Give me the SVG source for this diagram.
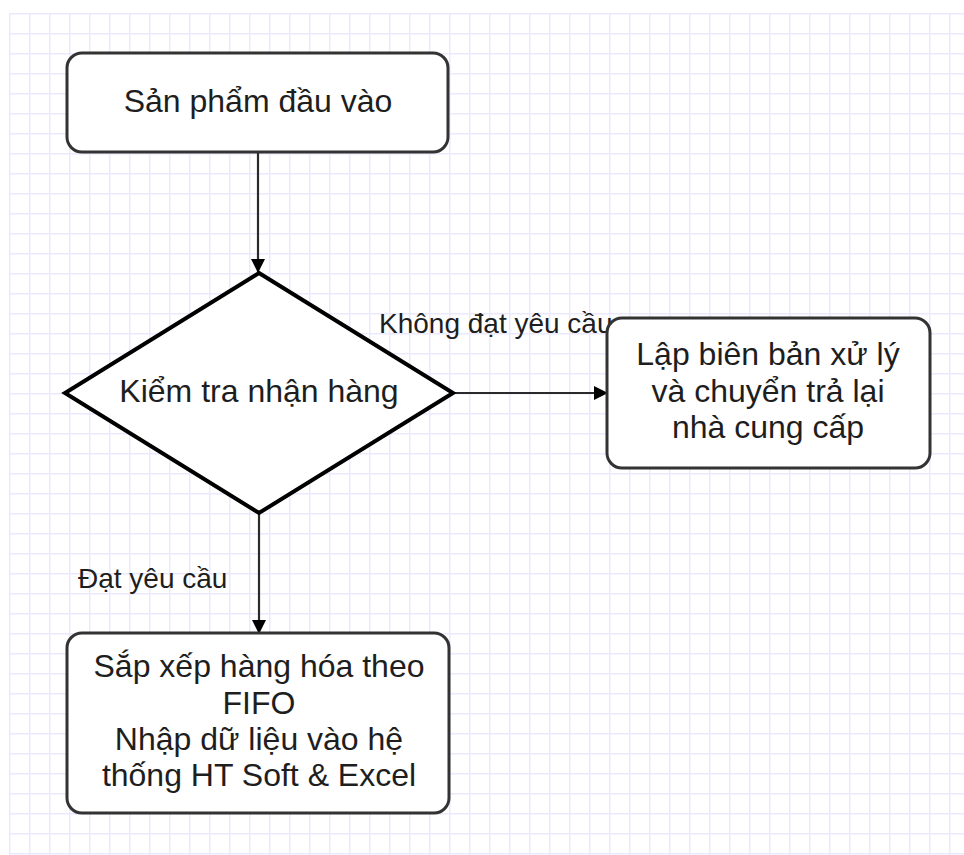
<svg xmlns="http://www.w3.org/2000/svg" width="964" height="855" viewBox="0 0 964 855">
  <defs>
    <pattern id="grid" x="9" y="13" width="20" height="20" patternUnits="userSpaceOnUse">
      <path d="M0 0.75 H20 M0.75 0 V20" fill="none" stroke="#ebe9fd" stroke-width="1.5"/>
    </pattern>
    <marker id="arrow" viewBox="0 0 14 14" refX="13" refY="7" markerWidth="14" markerHeight="14" markerUnits="userSpaceOnUse" orient="auto">
      <path d="M0 0 L14 7 L0 14 Z" fill="#000"/>
    </marker>
  </defs>
  <style>
    .box { fill: #fff; stroke: #333; stroke-width: 3; }
    .decision { fill: #fff; stroke: #000; stroke-width: 4; stroke-linejoin: miter; }
    .txt { font-family: "Liberation Sans", Arial, sans-serif; font-size: 32px; fill: #1e1e1e; text-anchor: middle; }
    .lbl { font-family: "Liberation Sans", Arial, sans-serif; font-size: 28px; fill: #1e1e1e; }
    .edge { fill: none; stroke: #2a2a2a; stroke-width: 2.2; marker-end: url(#arrow); }
  </style>

  <rect width="964" height="855" fill="#fff"/>
  <rect x="9" y="13" width="955" height="842" fill="url(#grid)"/>

  <!-- connectors -->
  <g id="connectors">
    <path class="edge" d="M258 152 V272"/>
    <path class="edge" d="M453 393 H607"/>
    <path class="edge" d="M259 513 V633"/>
    <text class="lbl" x="379" y="333">Không đạt yêu cầu</text>
    <text class="lbl" x="78" y="588">Đạt yêu cầu</text>
  </g>

  <!-- start: incoming goods -->
  <g id="node-input">
    <rect class="box" x="67" y="53" width="381" height="99" rx="15"/>
    <text class="txt" x="258" y="112">Sản phẩm đầu vào</text>
  </g>

  <!-- decision: receiving inspection -->
  <g id="node-check">
    <polygon class="decision" points="259,273 453,393 259,513 65,393"/>
    <text class="txt" x="259" y="402">Kiểm tra nhận hàng</text>
  </g>

  <!-- rejected branch -->
  <g id="node-reject">
    <rect class="box" x="607" y="318" width="323" height="150" rx="15"/>
    <text class="txt" x="768" y="365">Lập biên bản xử lý</text>
    <text class="txt" x="768" y="401.5">và chuyển trả lại</text>
    <text class="txt" x="768" y="438">nhà cung cấp</text>
  </g>

  <!-- accepted branch -->
  <g id="node-store">
    <rect class="box" x="67" y="633" width="382" height="180" rx="15"/>
    <text class="txt" x="259" y="677">Sắp xếp hàng hóa theo</text>
    <text class="txt" x="259" y="713.5">FIFO</text>
    <text class="txt" x="259" y="750">Nhập dữ liệu vào hệ</text>
    <text class="txt" x="259" y="786">thống HT Soft &amp; Excel</text>
  </g>
</svg>
